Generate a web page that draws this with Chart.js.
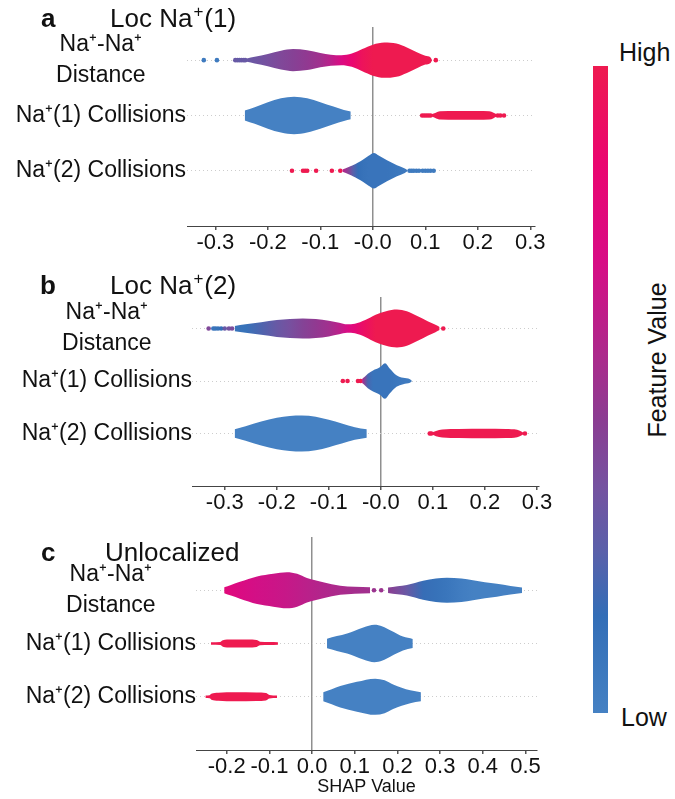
<!DOCTYPE html>
<html>
<head>
<meta charset="utf-8">
<script src="https://cdn.jsdelivr.net/npm/chart.js@4.4.1/dist/chart.umd.min.js"></script>
<style>
  body { margin: 0; width: 675px; height: 799px; background: #fff; position: relative; overflow: hidden;
         font-family: "Liberation Sans", Arial, sans-serif; color: #111; }
  canvas { position: absolute; left: 0; }
  .txt { position: absolute; white-space: nowrap; line-height: 1; }
  .tag { font-weight: bold; font-size: 26px; }
  .ttl { font-size: 26px; }
  .ttl .sp { font-size: 17px; position: relative; top: -10px; padding: 0 1px; }
  .cb { font-size: 25px; }
  #cbar { position: absolute; left: 593px; top: 66px; width: 15px; height: 647px; }
</style>
</head>
<body>
<canvas id="panelA" width="560" height="262" style="top:0px"></canvas>
<canvas id="panelB" width="560" height="258" style="top:262px"></canvas>
<canvas id="panelC" width="560" height="279" style="top:520px"></canvas>

<div class="txt tag" style="left:41px; top:5px">a</div>
<div class="txt ttl" style="left:110px; top:5px">Loc Na<span class="sp">+</span>(1)</div>
<div class="txt tag" style="left:40px; top:272px">b</div>
<div class="txt ttl" style="left:110px; top:272px">Loc Na<span class="sp">+</span>(2)</div>
<div class="txt tag" style="left:41px; top:539px">c</div>
<div class="txt ttl" style="left:105px; top:539px">Unlocalized</div>

<div id="cbar"></div>
<div class="txt cb" style="left:619px; top:40px">High</div>
<div class="txt cb" style="left:621px; top:705px">Low</div>
<div class="txt cb" style="left:657px; top:360px; transform: translate(-50%, -50%) rotate(-90deg)">Feature Value</div>

<script>
// row labels, top row first
const featureNames = [['Na⁺-Na⁺', 'Distance'], 'Na⁺(1) Collisions', 'Na⁺(2) Collisions'];

const ticksAB = [-0.3, -0.2, -0.1, 0, 0.1, 0.2, 0.3];
const tickLabelsAB = ['-0.3', '-0.2', '-0.1', '-0.0', '0.1', '0.2', '0.3'];
const ticksC = [-0.2, -0.1, 0, 0.1, 0.2, 0.3, 0.4, 0.5];
const tickLabelsC = ['-0.2', '-0.1', '0.0', '0.1', '0.2', '0.3', '0.4', '0.5'];

// colour map: feature value (0 low .. 1 high)
const cmapStops = [0, 0.15, 0.25, 0.35, 0.45, 0.55, 0.7, 0.85, 1];
const cmapColors = ['#4581c3', '#336eb7', '#5a60aa', '#7552a0', '#8a3d92', '#ab2a8c', '#d80c85', '#ea0670', '#ee1a50'];

// violin profiles: [shap value, half width, feature value]
// panel a
const aDist = [[-0.240,0.03,0.30],[-0.225,0.06,0.32],[-0.200,0.11,0.36],[-0.175,0.17,0.40],[-0.152,0.20,0.43],
  [-0.125,0.18,0.47],[-0.100,0.13,0.52],[-0.080,0.10,0.60],[-0.060,0.09,0.72],[-0.040,0.12,0.85],[-0.020,0.20,0.95],
  [0.000,0.28,1],[0.022,0.32,1],[0.045,0.30,1],[0.065,0.23,1],[0.085,0.14,1],[0.100,0.08,1],[0.110,0.05,1],[0.113,0.0,1]];
const aCol1Low = [[-0.244,0.09,0],[-0.225,0.15,0],[-0.200,0.24,0],[-0.175,0.31,0],[-0.150,0.34,0],[-0.125,0.31,0],
  [-0.100,0.24,0],[-0.075,0.16,0],[-0.055,0.10,0],[-0.042,0.07,0]];
const aCol1High = [[0.112,0.02,1],[0.120,0.05,1],[0.128,0.075,1],[0.160,0.08,1],[0.200,0.08,1],[0.222,0.075,1],
  [0.230,0.05,1],[0.236,0.02,1]];
const aCol2 = [[-0.058,0.02,0.6],[-0.045,0.07,0.4],[-0.038,0.10,0.25],[-0.028,0.15,0.15],[-0.019,0.20,0.12],
  [-0.008,0.27,0.1],[0.002,0.32,0.1],[0.012,0.27,0.1],[0.027,0.19,0.1],[0.046,0.10,0.08],[0.061,0.04,0.06],[0.066,0.01,0.06]];
// panel b
const bDist = [[-0.281,0.05,0.10],[-0.260,0.08,0.12],[-0.230,0.12,0.22],[-0.200,0.16,0.30],[-0.175,0.18,0.36],
  [-0.150,0.19,0.42],[-0.125,0.18,0.47],[-0.100,0.15,0.52],[-0.080,0.11,0.60],[-0.065,0.08,0.70],[-0.050,0.09,0.80],
  [-0.030,0.16,0.92],[-0.010,0.26,1],[0.010,0.33,1],[0.031,0.36,1],[0.050,0.33,1],[0.070,0.24,1],[0.090,0.14,1],
  [0.105,0.07,1],[0.113,0.03,1]];
const bCol1 = [[-0.036,0.04,0.6],[-0.031,0.08,0.4],[-0.025,0.14,0.2],[-0.015,0.20,0.1],[-0.002,0.26,0.1],
  [0.008,0.34,0.1],[0.017,0.24,0.1],[0.030,0.11,0.08],[0.043,0.06,0.06],[0.056,0.035,0.05],[0.060,0.0,0.05]];
const bCol2Low = [[-0.281,0.08,0],[-0.260,0.14,0],[-0.230,0.23,0],[-0.200,0.30,0],[-0.175,0.335,0],[-0.152,0.345,0],
  [-0.125,0.32,0],[-0.100,0.26,0],[-0.075,0.19,0],[-0.050,0.12,0],[-0.027,0.08,0]];
const bCol2High = [[0.098,0.02,1],[0.106,0.05,1],[0.118,0.075,1],[0.150,0.085,1],[0.200,0.09,1],[0.240,0.085,1],
  [0.262,0.07,1],[0.270,0.04,1],[0.275,0.01,1]];
// panel c
const cDistHigh = [[-0.206,0.055,0.78],[-0.190,0.10,0.75],[-0.169,0.16,0.72],[-0.129,0.26,0.68],[-0.091,0.31,0.66],
  [-0.059,0.34,0.64],[-0.035,0.31,0.62],[-0.012,0.23,0.60],[0.026,0.15,0.57],[0.066,0.085,0.55],[0.100,0.065,0.53],
  [0.136,0.055,0.52]];
const cDistLow = [[0.178,0.05,0.45],[0.200,0.075,0.38],[0.222,0.10,0.30],[0.260,0.18,0.16],[0.290,0.22,0.12],
  [0.316,0.235,0.09],[0.350,0.22,0.03],[0.377,0.19,0],[0.405,0.15,0],[0.433,0.12,0],[0.465,0.08,0],[0.492,0.05,0]];
const cCol1High = [[-0.237,0.025,1],[-0.215,0.03,1],[-0.209,0.06,1],[-0.190,0.075,1],[-0.150,0.075,1],
  [-0.130,0.065,1],[-0.122,0.035,1],[-0.100,0.03,1],[-0.080,0.025,1]];
const cCol1Low = [[0.035,0.09,0],[0.058,0.14,0],[0.082,0.19,0],[0.100,0.24,0],[0.120,0.30,0],[0.146,0.35,0],
  [0.165,0.32,0],[0.183,0.25,0],[0.200,0.18,0],[0.213,0.13,0],[0.236,0.085,0]];
const cCol2High = [[-0.250,0.025,1],[-0.240,0.03,1],[-0.236,0.055,1],[-0.220,0.075,1],[-0.180,0.085,1],
  [-0.130,0.08,1],[-0.108,0.07,1],[-0.100,0.035,1],[-0.082,0.025,1]];
const cCol2Low = [[0.026,0.085,0],[0.046,0.14,0],[0.066,0.20,0],[0.105,0.28,0],[0.148,0.34,0],[0.170,0.31,0],
  [0.190,0.23,0],[0.210,0.17,0],[0.230,0.12,0],[0.255,0.085,0]];

// single points outside the violins: [shap value, feature value]
const aDistDots = [[-0.322,0.05],[-0.297,0.05],[-0.262,0.3],[-0.258,0.3],[-0.254,0.28],[-0.250,0.3],[-0.246,0.3],[-0.243,0.3],[0.120,1]];
const aCol1Dots = [[0.094,1],[0.098,1],[0.102,1],[0.106,1],[0.110,1],[0.238,1],[0.243,1],[0.250,1]];
const aCol2Dots = [[-0.154,1],[-0.133,1],[-0.129,1],[-0.125,1],[-0.108,1],[-0.078,1],[-0.062,1],
  [0.070,0.05],[0.074,0.05],[0.078,0.05],[0.083,0.05],[0.088,0.05],[0.095,0.05],[0.100,0.05],[0.105,0.05],[0.110,0.05],[0.116,0.05]];
const bDistDots = [[-0.331,0.4],[-0.322,0.1],[-0.318,0.1],[-0.313,0.12],[-0.307,0.15],[-0.300,0.3],[-0.292,0.35],[-0.286,0.38],[0.120,1]];
const bCol1Dots = [[-0.073,1],[-0.064,1],[-0.044,1],[-0.039,1]];
const bCol2Dots = [[0.094,1],[0.097,1],[0.277,1]];
const cDistDots = [[0.145,0.5],[0.162,0.5]];

const family = '"Liberation Sans", Arial, sans-serif';

function hexRgb(h) {
  return [parseInt(h.slice(1,3),16), parseInt(h.slice(3,5),16), parseInt(h.slice(5,7),16)];
}

function colorAt(f) {
  for (let i = 1; i < cmapStops.length; i++) {
    if (f <= cmapStops[i]) {
      const t = (f - cmapStops[i-1]) / (cmapStops[i] - cmapStops[i-1]);
      const a = hexRgb(cmapColors[i-1]), b = hexRgb(cmapColors[i]);
      const c = a.map((v, k) => Math.round(v + (b[k] - v) * t));
      return `rgb(${c[0]},${c[1]},${c[2]})`;
    }
  }
  return cmapColors[cmapColors.length - 1];
}

// colorbar
document.getElementById('cbar').style.background =
  'linear-gradient(to top, ' + cmapStops.map((s, i) => `${cmapColors[i]} ${s*100}%`).join(', ') + ')';

function violinFill(pts) {
  return (ctx) => {
    const chart = ctx.chart;
    const xs = chart.scales.x;
    if (!chart.chartArea || !xs) return colorAt(pts[0][2]);
    const x0 = xs.getPixelForValue(pts[0][0]);
    const x1 = xs.getPixelForValue(pts[pts.length - 1][0]);
    const g = chart.ctx.createLinearGradient(x0, 0, x1, 0);
    pts.forEach(p => g.addColorStop(Math.min(1, Math.max(0, (xs.getPixelForValue(p[0]) - x0) / (x1 - x0))), colorAt(p[2])));
    return g;
  };
}

function buildPanel(id, pieces, dots, xr, ticks, labels, yTop, geo, xTitle) {
  const datasets = [];
  pieces.forEach(([row, pts]) => {
    datasets.push({
      data: pts.map(p => ({x: p[0], y: row + p[1]})),
      fill: '+1', backgroundColor: violinFill(pts),
      borderColor: 'rgba(0,0,0,0)', borderWidth: 0, pointRadius: 0, cubicInterpolationMode: 'monotone'
    });
    datasets.push({
      data: pts.map(p => ({x: p[0], y: row - p[1]})),
      fill: false, borderColor: 'rgba(0,0,0,0)', borderWidth: 0, pointRadius: 0, cubicInterpolationMode: 'monotone'
    });
  });
  dots.forEach(([row, list]) => {
    datasets.push({
      data: list.map(d => ({x: d[0], y: row})),
      showLine: false, pointRadius: 2.3, pointBorderWidth: 0,
      pointBackgroundColor: list.map(d => colorAt(d[1]))
    });
  });

  new Chart(document.getElementById(id), {
    type: 'line',
    data: { datasets: datasets },
    options: {
      responsive: false, animation: false, devicePixelRatio: 1,
      layout: { padding: { top: geo.pt, right: geo.pr, left: 0, bottom: 0 } },
      plugins: { legend: { display: false }, tooltip: { enabled: false } },
      scales: {
        x: {
          type: 'linear', min: xr[0], max: xr[1],
          afterBuildTicks: s => { s.ticks = ticks.map(v => ({value: v})); },
          afterFit: s => { s.height = geo.xh; },
          ticks: { callback: (v, i) => labels[i], font: { size: 22, family: family }, color: '#111',
                   padding: 0, maxRotation: 0, autoSkip: false },
          grid: { color: c => (c.tick && c.tick.value === 0) ? '#8f8f8f' : 'rgba(0,0,0,0)',
                  lineWidth: 1.5, tickLength: 4, tickColor: '#555' },
          border: { display: true, color: '#444', width: 1 },
          title: { display: !!xTitle, text: xTitle || '', font: { size: 18, family: family }, color: '#111',
                   padding: { top: 0, bottom: 1 } }
        },
        y: {
          type: 'linear', min: -1, max: yTop,
          afterBuildTicks: s => { s.ticks = [0, 1, 2].map(v => ({value: v})); },
          afterFit: s => { s.width = geo.yw; s.paddingTop = 0; s.paddingBottom = 0; },
          ticks: { callback: v => featureNames[2 - v], font: { size: 23, family: family, lineHeight: 1.35 },
                   color: '#111', crossAlign: 'center', padding: geo.lp },
          grid: { color: '#cdcdcd', lineWidth: 1, drawTicks: false },
          border: { display: false, dash: [1, 3] }
        }
      }
    }
  });
}

buildPanel('panelA',
  [[2, aDist], [1, aCol1Low], [1, aCol1High], [0, aCol2]],
  [[2, aDistDots], [1, aCol1Dots], [0, aCol2Dots]],
  [-0.354, 0.309], ticksAB, tickLabelsAB, 2.6,
  { pt: 27, pr: 25, xh: 36, yw: 187, lp: 1 });

buildPanel('panelB',
  [[2, bDist], [1, bCol1], [0, bCol2Low], [0, bCol2High]],
  [[2, bDistDots], [1, bCol1Dots], [0, bCol2Dots]],
  [-0.363, 0.304], ticksAB, tickLabelsAB, 2.6,
  { pt: 35, pr: 21, xh: 34, yw: 192, lp: 0 });

buildPanel('panelC',
  [[2, cDistHigh], [2, cDistLow], [1, cCol1High], [1, cCol1Low], [0, cCol2High], [0, cCol2Low]],
  [[2, cDistDots]],
  [-0.272, 0.527], ticksC, tickLabelsC, 3,
  { pt: 17, pr: 23, xh: 49, yw: 196, lp: 0 }, 'SHAP Value');
</script>
</body>
</html>
